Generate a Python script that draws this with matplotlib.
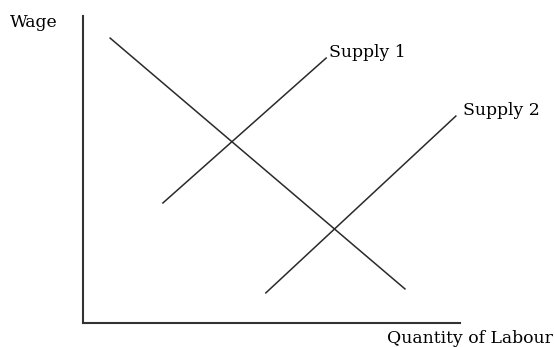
import matplotlib.pyplot as plt

# Labour market: one demand curve and two supply curves (end points)
demand_q = [0.72, 8.54]
demand_w = [9.28, 1.11]
supply1_q = [2.12, 6.45]
supply1_w = [3.91, 8.63]
supply2_q = [4.85, 9.89]
supply2_w = [0.98, 6.74]

plt.rcParams['font.family'] = 'DejaVu Serif'

fig = plt.figure(figsize=(5.54, 3.47), dpi=100)
ax = fig.add_axes([0.1498, 0.0692, 0.6805, 0.8847])

ax.plot(demand_q, demand_w, color='#2a2a2a', lw=1.1)
ax.plot(supply1_q, supply1_w, color='#2a2a2a', lw=1.1)
ax.plot(supply2_q, supply2_w, color='#2a2a2a', lw=1.1)

ax.text(supply1_q[1] + 0.07, supply1_w[1] + 0.05, 'Supply 1', fontsize=12.4, va='baseline', ha='left')
ax.text(supply2_q[1] + 0.2, supply2_w[1] + 0.05, 'Supply 2', fontsize=12.4, va='baseline', ha='left')

ax.set_xlim(0, 10)
ax.set_ylim(0, 10)
for s in ['top', 'right']:
    ax.spines[s].set_visible(False)
for s in ['left', 'bottom']:
    ax.spines[s].set_linewidth(1.5)
    ax.spines[s].set_color('#333333')
ax.set_xticks([])
ax.set_yticks([])
ax.patch.set_alpha(0)

fig.text(10 / 554, 1 - 27 / 347, 'Wage', fontsize=12.4, va='baseline', ha='left')
fig.text(387 / 554, 1 - 343 / 347, 'Quantity of Labour', fontsize=12.4, va='baseline', ha='left')

plt.savefig('out.png', dpi=100)
